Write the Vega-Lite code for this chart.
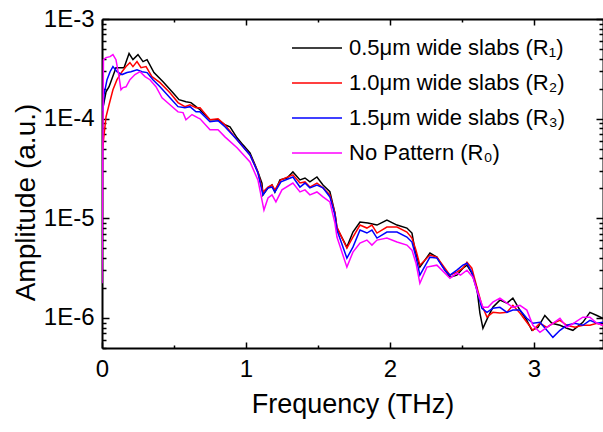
{
  "$schema": "https://vega.github.io/schema/vega-lite/v6.json",
  "width": 501,
  "height": 329,
  "autosize": {"type": "none"},
  "padding": {"left": 102, "top": 19, "right": 0, "bottom": 84},
  "background": "white",
  "config": {
    "view": {"stroke": null},
    "font": "Liberation Sans",
    "axis": {
      "grid": false,
      "domainColor": "black",
      "domainWidth": 2,
      "tickColor": "black",
      "tickWidth": 1.5,
      "labelColor": "black",
      "titleColor": "black",
      "labelFont": "Liberation Sans",
      "titleFont": "Liberation Sans",
      "titleFontWeight": "normal",
      "labelOverlap": false,
      "labelFlush": false
    }
  },
  "datasets": {
    "r1": [
      {"f":0.007,"a":1.3e-4},{"f":0.028,"a":1.86e-4},{"f":0.049,"a":2.09e-4},{"f":0.097,"a":3.25e-4},{"f":0.153,"a":3.25e-4},{"f":0.188,"a":4.5e-4},{"f":0.215,"a":3.91e-4},{"f":0.25,"a":4.39e-4},{"f":0.285,"a":3.74e-4},{"f":0.313,"a":3.91e-4},{"f":0.361,"a":2.9e-4},{"f":0.424,"a":2.35e-4},{"f":0.493,"a":1.82e-4},{"f":0.535,"a":1.55e-4},{"f":0.583,"a":1.48e-4},{"f":0.618,"a":1.45e-4},{"f":0.653,"a":1.32e-4},{"f":0.681,"a":1.23e-4},{"f":0.75,"a":9.75e-5},{"f":0.806,"a":9.75e-5},{"f":0.854,"a":8.68e-5},{"f":0.889,"a":8.29e-5},{"f":0.938,"a":6.42e-5},{"f":0.979,"a":5.46e-5},{"f":1.028,"a":4.54e-5},{"f":1.063,"a":3.44e-5},{"f":1.083,"a":2.92e-5},{"f":1.111,"a":2.26e-5},{"f":1.118,"a":1.72e-5},{"f":1.153,"a":2.02e-5},{"f":1.181,"a":2.16e-5},{"f":1.201,"a":1.84e-5},{"f":1.236,"a":2.43e-5},{"f":1.285,"a":2.54e-5},{"f":1.326,"a":2.92e-5},{"f":1.375,"a":2.43e-5},{"f":1.41,"a":2.54e-5},{"f":1.444,"a":2.32e-5},{"f":1.493,"a":2.6e-5},{"f":1.535,"a":2.16e-5},{"f":1.583,"a":1.85e-5},{"f":1.618,"a":1.13e-5},{"f":1.632,"a":7.99e-6},{"f":1.701,"a":5.14e-6},{"f":1.743,"a":7.28e-6},{"f":1.792,"a":9.18e-6},{"f":1.847,"a":8.97e-6},{"f":1.91,"a":8.56e-6},{"f":1.979,"a":9.62e-6},{"f":2.049,"a":8.56e-6},{"f":2.118,"a":7.99e-6},{"f":2.153,"a":7.12e-6},{"f":2.174,"a":4.8e-6},{"f":2.208,"a":3.24e-6},{"f":2.278,"a":4.48e-6},{"f":2.326,"a":4.08e-6},{"f":2.382,"a":3.02e-6},{"f":2.417,"a":2.57e-6},{"f":2.465,"a":2.69e-6},{"f":2.507,"a":3.16e-6},{"f":2.535,"a":3.39e-6},{"f":2.569,"a":2.82e-6},{"f":2.604,"a":1.99e-6},{"f":2.625,"a":1.12e-6},{"f":2.646,"a":7.88e-7},{"f":2.681,"a":1.02e-6},{"f":2.715,"a":1.28e-6},{"f":2.764,"a":1.51e-6},{"f":2.813,"a":1.41e-6},{"f":2.854,"a":1.58e-6},{"f":2.903,"a":1.2e-6},{"f":2.951,"a":9.48e-7},{"f":2.986,"a":7.52e-7},{"f":3.028,"a":8.06e-7},{"f":3.076,"a":1.06e-6},{"f":3.125,"a":8.85e-7},{"f":3.181,"a":8.45e-7},{"f":3.229,"a":7.88e-7},{"f":3.271,"a":7.52e-7},{"f":3.34,"a":9.05e-7},{"f":3.389,"a":1.14e-6},{"f":3.438,"a":1.06e-6},{"f":3.479,"a":9.93e-7}
    ],
    "r2": [
      {"f":0.003,"a":4.87e-5},{"f":0.028,"a":1.045e-4},{"f":0.049,"a":1.38e-4},{"f":0.076,"a":1.95e-4},{"f":0.104,"a":2.46e-4},{"f":0.139,"a":2.96e-4},{"f":0.167,"a":3.33e-4},{"f":0.194,"a":3.65e-4},{"f":0.215,"a":3.33e-4},{"f":0.243,"a":3.74e-4},{"f":0.271,"a":3.25e-4},{"f":0.306,"a":3.33e-4},{"f":0.347,"a":2.64e-4},{"f":0.403,"a":2.3e-4},{"f":0.472,"a":1.82e-4},{"f":0.528,"a":1.45e-4},{"f":0.576,"a":1.32e-4},{"f":0.611,"a":1.38e-4},{"f":0.653,"a":1.29e-4},{"f":0.681,"a":1.29e-4},{"f":0.75,"a":9.75e-5},{"f":0.806,"a":9.98e-5},{"f":0.854,"a":8.68e-5},{"f":0.938,"a":6.13e-5},{"f":1.028,"a":4.33e-5},{"f":1.083,"a":2.92e-5},{"f":1.118,"a":1.84e-5},{"f":1.153,"a":2.06e-5},{"f":1.181,"a":2.16e-5},{"f":1.201,"a":1.93e-5},{"f":1.243,"a":2.43e-5},{"f":1.326,"a":2.73e-5},{"f":1.375,"a":2.26e-5},{"f":1.41,"a":2.32e-5},{"f":1.444,"a":2.06e-5},{"f":1.493,"a":2.26e-5},{"f":1.535,"a":2.02e-5},{"f":1.583,"a":1.72e-5},{"f":1.618,"a":1.13e-5},{"f":1.632,"a":8.18e-6},{"f":1.701,"a":5.03e-6},{"f":1.743,"a":6.49e-6},{"f":1.792,"a":8.56e-6},{"f":1.84,"a":7.99e-6},{"f":1.875,"a":8.56e-6},{"f":1.91,"a":7.12e-6},{"f":1.979,"a":8.18e-6},{"f":2.049,"a":8.18e-6},{"f":2.118,"a":7.28e-6},{"f":2.153,"a":6.34e-6},{"f":2.181,"a":4.8e-6},{"f":2.208,"a":3.39e-6},{"f":2.278,"a":4.28e-6},{"f":2.326,"a":4.08e-6},{"f":2.382,"a":3.16e-6},{"f":2.417,"a":2.69e-6},{"f":2.465,"a":2.88e-6},{"f":2.507,"a":3.16e-6},{"f":2.535,"a":3.63e-6},{"f":2.569,"a":3.16e-6},{"f":2.604,"a":2.04e-6},{"f":2.639,"a":1.34e-6},{"f":2.674,"a":1.02e-6},{"f":2.715,"a":1.14e-6},{"f":2.764,"a":1.12e-6},{"f":2.813,"a":1.14e-6},{"f":2.854,"a":1.34e-6},{"f":2.903,"a":1.12e-6},{"f":2.951,"a":9.05e-7},{"f":2.993,"a":7.52e-7},{"f":3.042,"a":8.85e-7},{"f":3.09,"a":8.06e-7},{"f":3.132,"a":8.85e-7},{"f":3.181,"a":9.48e-7},{"f":3.229,"a":8.45e-7},{"f":3.285,"a":8.06e-7},{"f":3.34,"a":8.45e-7},{"f":3.389,"a":8.45e-7},{"f":3.438,"a":8.85e-7},{"f":3.479,"a":8.45e-7}
    ],
    "r3": [
      {"f":0.007,"a":1.2e-4},{"f":0.014,"a":1.74e-4},{"f":0.035,"a":2.46e-4},{"f":0.056,"a":2.96e-4},{"f":0.076,"a":3.33e-4},{"f":0.104,"a":2.96e-4},{"f":0.139,"a":2.77e-4},{"f":0.174,"a":2.9e-4},{"f":0.201,"a":2.96e-4},{"f":0.243,"a":3.1e-4},{"f":0.278,"a":2.96e-4},{"f":0.313,"a":2.9e-4},{"f":0.354,"a":2.46e-4},{"f":0.403,"a":2.09e-4},{"f":0.472,"a":1.62e-4},{"f":0.528,"a":1.32e-4},{"f":0.576,"a":1.29e-4},{"f":0.611,"a":1.32e-4},{"f":0.653,"a":1.17e-4},{"f":0.681,"a":1.17e-4},{"f":0.75,"a":9.31e-5},{"f":0.806,"a":9.53e-5},{"f":0.854,"a":8.29e-5},{"f":0.938,"a":6.13e-5},{"f":1.028,"a":4.33e-5},{"f":1.083,"a":2.86e-5},{"f":1.118,"a":1.72e-5},{"f":1.153,"a":2.02e-5},{"f":1.181,"a":2.06e-5},{"f":1.201,"a":1.84e-5},{"f":1.243,"a":2.32e-5},{"f":1.326,"a":2.6e-5},{"f":1.375,"a":2.06e-5},{"f":1.41,"a":2.26e-5},{"f":1.444,"a":2.02e-5},{"f":1.493,"a":2.16e-5},{"f":1.535,"a":2.02e-5},{"f":1.583,"a":1.64e-5},{"f":1.618,"a":1.08e-5},{"f":1.632,"a":7.63e-6},{"f":1.701,"a":3.99e-6},{"f":1.743,"a":5.14e-6},{"f":1.792,"a":7.63e-6},{"f":1.84,"a":7.12e-6},{"f":1.875,"a":7.63e-6},{"f":1.91,"a":6.34e-6},{"f":1.979,"a":7.28e-6},{"f":2.049,"a":7.28e-6},{"f":2.118,"a":6.49e-6},{"f":2.153,"a":5.78e-6},{"f":2.181,"a":4.08e-6},{"f":2.208,"a":2.69e-6},{"f":2.278,"a":4.08e-6},{"f":2.326,"a":3.99e-6},{"f":2.382,"a":3.02e-6},{"f":2.417,"a":2.69e-6},{"f":2.465,"a":3.02e-6},{"f":2.507,"a":3.39e-6},{"f":2.535,"a":3.55e-6},{"f":2.569,"a":2.88e-6},{"f":2.604,"a":1.9e-6},{"f":2.639,"a":1.25e-6},{"f":2.674,"a":1.14e-6},{"f":2.715,"a":1.25e-6},{"f":2.764,"a":1.28e-6},{"f":2.813,"a":1.14e-6},{"f":2.854,"a":1.2e-6},{"f":2.903,"a":1.2e-6},{"f":2.951,"a":9.93e-7},{"f":2.993,"a":8.85e-7},{"f":3.042,"a":9.05e-7},{"f":3.09,"a":7.52e-7},{"f":3.132,"a":6.39e-7},{"f":3.181,"a":7.52e-7},{"f":3.229,"a":8.45e-7},{"f":3.285,"a":8.85e-7},{"f":3.34,"a":8.45e-7},{"f":3.389,"a":9.48e-7},{"f":3.438,"a":8.85e-7},{"f":3.479,"a":9.05e-7}
    ],
    "r0": [
      {"f":0.0,"a":2.23e-6},{"f":0.01,"a":3.9e-4},{"f":0.028,"a":4.1e-4},{"f":0.056,"a":4.19e-4},{"f":0.076,"a":4.39e-4},{"f":0.097,"a":3.91e-4},{"f":0.118,"a":2.64e-4},{"f":0.132,"a":1.95e-4},{"f":0.146,"a":2.05e-4},{"f":0.167,"a":2.09e-4},{"f":0.194,"a":2.46e-4},{"f":0.229,"a":2.77e-4},{"f":0.264,"a":2.96e-4},{"f":0.299,"a":2.64e-4},{"f":0.333,"a":2.46e-4},{"f":0.375,"a":2.09e-4},{"f":0.417,"a":1.62e-4},{"f":0.472,"a":1.38e-4},{"f":0.528,"a":1.17e-4},{"f":0.563,"a":1.15e-4},{"f":0.583,"a":9.75e-5},{"f":0.625,"a":1.1e-4},{"f":0.667,"a":1.02e-4},{"f":0.681,"a":9.98e-5},{"f":0.75,"a":7.73e-5},{"f":0.806,"a":7.73e-5},{"f":0.854,"a":6.57e-5},{"f":0.938,"a":5.1e-5},{"f":1.028,"a":3.68e-5},{"f":1.083,"a":2.43e-5},{"f":1.125,"a":1.21e-5},{"f":1.153,"a":1.6e-5},{"f":1.181,"a":1.72e-5},{"f":1.208,"a":1.46e-5},{"f":1.25,"a":1.93e-5},{"f":1.326,"a":2.26e-5},{"f":1.375,"a":1.84e-5},{"f":1.41,"a":1.93e-5},{"f":1.444,"a":1.72e-5},{"f":1.493,"a":1.84e-5},{"f":1.535,"a":1.64e-5},{"f":1.583,"a":1.46e-5},{"f":1.618,"a":8.97e-6},{"f":1.632,"a":6.49e-6},{"f":1.701,"a":3.24e-6},{"f":1.743,"a":4.58e-6},{"f":1.792,"a":5.64e-6},{"f":1.84,"a":6.05e-6},{"f":1.875,"a":5.39e-6},{"f":1.91,"a":6.05e-6},{"f":1.979,"a":6.34e-6},{"f":2.049,"a":5.78e-6},{"f":2.118,"a":5.39e-6},{"f":2.153,"a":4.8e-6},{"f":2.181,"a":3.55e-6},{"f":2.208,"a":2.23e-6},{"f":2.257,"a":3.24e-6},{"f":2.326,"a":3.39e-6},{"f":2.382,"a":2.82e-6},{"f":2.417,"a":2.51e-6},{"f":2.465,"a":2.82e-6},{"f":2.49,"a":2.7e-6},{"f":2.535,"a":3.02e-6},{"f":2.576,"a":2.57e-6},{"f":2.611,"a":1.77e-6},{"f":2.646,"a":1.28e-6},{"f":2.681,"a":1.28e-6},{"f":2.715,"a":1.44e-6},{"f":2.764,"a":1.58e-6},{"f":2.813,"a":1.41e-6},{"f":2.854,"a":1.28e-6},{"f":2.903,"a":1.34e-6},{"f":2.951,"a":1.2e-6},{"f":2.993,"a":8.45e-7},{"f":3.042,"a":7.18e-7},{"f":3.09,"a":8.06e-7},{"f":3.132,"a":8.85e-7},{"f":3.181,"a":9.93e-7},{"f":3.229,"a":8.06e-7},{"f":3.285,"a":9.05e-7},{"f":3.34,"a":1.02e-6},{"f":3.389,"a":1.02e-6},{"f":3.438,"a":8.85e-7},{"f":3.479,"a":8.45e-7}
    ]
  },
  "layer": [
    {
      "data": {"name": "r1"},
      "mark": {"type": "line", "strokeWidth": 1.5, "clip": true},
      "encoding": {
        "x": {"field": "f", "type": "quantitative",
          "scale": {"domain": [0, 3.48], "nice": false, "zero": false},
          "axis": {"orient": "bottom", "values": [0, 0.5, 1, 1.5, 2, 2.5, 3],
            "labelExpr": "datum.value % 1 === 0 ? format(datum.value, 'd') : ''",
            "tickSize": {"condition": {"test": "datum.value % 1 === 0", "value": -6}, "value": -3},
            "labelFontSize": 24, "labelPadding": 15,
            "title": "Frequency (THz)", "titleFontSize": 27, "titlePadding": 7}},
        "y": {"field": "a", "type": "quantitative",
          "scale": {"type": "log", "domain": [5e-7, 1e-3], "nice": false},
          "axis": {"orient": "left",
            "values": [5e-7, 6e-7, 7e-7, 8e-7, 9e-7, 1e-6, 2e-6, 3e-6, 4e-6, 5e-6, 6e-6, 7e-6, 8e-6, 9e-6, 1e-5, 2e-5, 3e-5, 4e-5, 5e-5, 6e-5, 7e-5, 8e-5, 9e-5, 1e-4, 2e-4, 3e-4, 4e-4, 5e-4, 6e-4, 7e-4, 8e-4, 9e-4, 1e-3],
            "labelExpr": "abs(log(datum.value)/LN10 - round(log(datum.value)/LN10)) < 0.01 ? '1E-' + round(-log(datum.value)/LN10) : ''",
            "tickSize": {"condition": {"test": "abs(log(datum.value)/LN10 - round(log(datum.value)/LN10)) < 0.01", "value": -7}, "value": -4},
            "labelFontSize": 24, "labelPadding": 15,
            "title": "Amplitude (a.u.)", "titleFontSize": 28, "titlePadding": 3, "titleY": 183}},
        "color": {"datum": "0.5μm wide slabs (R₁)",
          "scale": {"domain": ["0.5μm wide slabs (R₁)", "1.0μm wide slabs (R₂)", "1.5μm wide slabs (R₃)", "No Pattern (R₀)"],
                    "range": ["#000000", "#ff0000", "#0000ff", "#ff00ff"]},
          "legend": {"orient": "none", "legendX": 204, "legendY": 18, "title": null,
            "symbolType": "M -2.5 0 L 2.5 0", "symbolSize": 400, "symbolStrokeWidth": 1.5,
            "labelFont": "Liberation Sans", "labelFontSize": 22, "labelColor": "black",
            "labelOffset": 21, "rowPadding": 13, "labelLimit": 500, "padding": 0}}
      }
    },
    {
      "data": {"name": "r2"},
      "mark": {"type": "line", "strokeWidth": 1.5, "clip": true},
      "encoding": {
        "x": {"field": "f", "type": "quantitative",
          "scale": {"domain": [0, 3.48], "nice": false, "zero": false},
          "axis": {"orient": "top", "values": [0, 0.5, 1, 1.5, 2, 2.5, 3], "labels": false, "title": null,
            "tickSize": {"condition": {"test": "datum.value % 1 === 0", "value": -6}, "value": -3}}},
        "y": {"field": "a", "type": "quantitative",
          "scale": {"type": "log", "domain": [5e-7, 1e-3], "nice": false},
          "axis": {"orient": "right",
            "values": [5e-7, 6e-7, 7e-7, 8e-7, 9e-7, 1e-6, 2e-6, 3e-6, 4e-6, 5e-6, 6e-6, 7e-6, 8e-6, 9e-6, 1e-5, 2e-5, 3e-5, 4e-5, 5e-5, 6e-5, 7e-5, 8e-5, 9e-5, 1e-4, 2e-4, 3e-4, 4e-4, 5e-4, 6e-4, 7e-4, 8e-4, 9e-4, 1e-3],
            "labels": false, "title": null,
            "tickSize": {"condition": {"test": "abs(log(datum.value)/LN10 - round(log(datum.value)/LN10)) < 0.01", "value": -7}, "value": -4}}},
        "color": {"datum": "1.0μm wide slabs (R₂)"}
      }
    },
    {
      "data": {"name": "r3"},
      "mark": {"type": "line", "strokeWidth": 1.5, "clip": true},
      "encoding": {
        "x": {"field": "f", "type": "quantitative", "scale": {"domain": [0, 3.48], "nice": false, "zero": false}, "axis": null},
        "y": {"field": "a", "type": "quantitative", "scale": {"type": "log", "domain": [5e-7, 1e-3], "nice": false}, "axis": null},
        "color": {"datum": "1.5μm wide slabs (R₃)"}
      }
    },
    {
      "data": {"name": "r0"},
      "mark": {"type": "line", "strokeWidth": 1.5, "clip": true},
      "encoding": {
        "x": {"field": "f", "type": "quantitative", "scale": {"domain": [0, 3.48], "nice": false, "zero": false}, "axis": null},
        "y": {"field": "a", "type": "quantitative", "scale": {"type": "log", "domain": [5e-7, 1e-3], "nice": false}, "axis": null},
        "color": {"datum": "No Pattern (R₀)"}
      }
    }
  ],
  "resolve": {"axis": {"x": "independent", "y": "independent"}}
}
